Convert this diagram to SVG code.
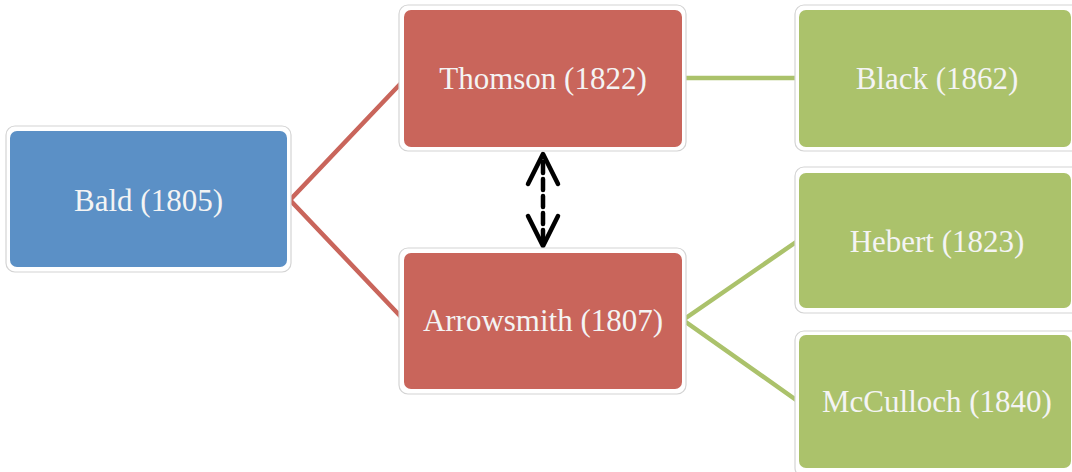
<svg xmlns="http://www.w3.org/2000/svg" width="1072" height="472" viewBox="0 0 1072 472">
  <defs>
    <style>
      .outer { fill: #ffffff; stroke: #d4d4d4; stroke-width: 1.2; }
      .blue { fill: #5b90c6; }
      .red { fill: #c9655b; }
      .green { fill: #abc26b; }
      .lbl { font-family: "Liberation Serif", "Times New Roman", serif; font-size: 31px; fill: #f4f4f4; text-anchor: middle; }
      .cr { stroke: #c9655b; stroke-width: 4.5; fill: none; }
      .cg { stroke: #abc26b; stroke-width: 4.5; fill: none; }
      .arr { stroke: #000000; stroke-width: 4.5; fill: none; stroke-linecap: round; stroke-linejoin: round; }
    </style>
  </defs>
  <rect width="1072" height="472" fill="#ffffff"/>
  <g id="connectors">
    <polyline class="cr" points="404,80 290,200 404,320"/>
    <line class="cg" x1="682" y1="78" x2="799" y2="78"/>
    <polyline class="cg" points="799,240 683,320 799,402"/>
    <line class="arr" x1="543" y1="162" x2="543" y2="240" stroke-dasharray="11 6" stroke-linecap="butt"/>
    <polyline class="arr" points="528,184 543,154 558,184"/>
    <polyline class="arr" points="528,216 543,246 558,216"/>
  </g>
  <g id="bald">
    <rect class="outer" x="6" y="126" width="285" height="146" rx="9"/>
    <rect class="blue" x="10" y="131" width="277" height="136" rx="7"/>
    <text class="lbl" x="148.5" y="210.5">Bald (1805)</text>
  </g>
  <g id="thomson">
    <rect class="outer" x="399" y="5" width="287" height="146" rx="9"/>
    <rect class="red" x="404" y="10" width="278" height="137" rx="7"/>
    <text class="lbl" x="543" y="89">Thomson (1822)</text>
  </g>
  <g id="arrowsmith">
    <rect class="outer" x="399" y="248" width="287" height="146" rx="9"/>
    <rect class="red" x="404" y="253" width="278" height="136" rx="7"/>
    <text class="lbl" x="543" y="331">Arrowsmith (1807)</text>
  </g>
  <g id="black">
    <rect class="outer" x="795" y="5" width="290" height="146" rx="9"/>
    <rect class="green" x="799" y="10" width="272" height="137" rx="7"/>
    <text class="lbl" x="937" y="89">Black (1862)</text>
  </g>
  <g id="hebert">
    <rect class="outer" x="795" y="167" width="290" height="146" rx="9"/>
    <rect class="green" x="799" y="173" width="272" height="135" rx="7"/>
    <text class="lbl" x="937" y="252">Hebert (1823)</text>
  </g>
  <g id="mcculloch">
    <rect class="outer" x="795" y="331" width="290" height="146" rx="9"/>
    <rect class="green" x="799" y="335" width="272" height="133" rx="7"/>
    <text class="lbl" x="937" y="412">McCulloch (1840)</text>
  </g>
</svg>
